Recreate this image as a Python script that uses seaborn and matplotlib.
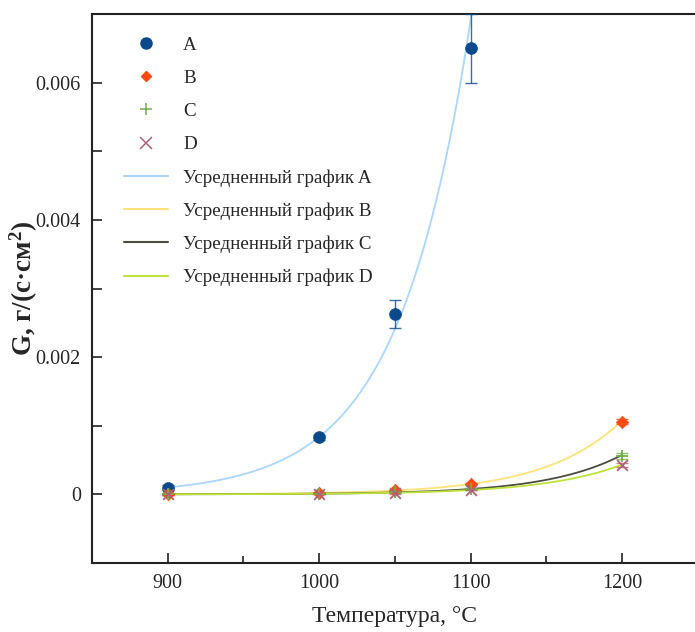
import numpy as np
import pandas as pd
import matplotlib
matplotlib.use("Agg")
import matplotlib.pyplot as plt
import seaborn as sns
from matplotlib.lines import Line2D

# ---- data ----
temps = [900, 1000, 1050, 1100, 1200]
g_a = [0.00010, 0.00083, 0.00263, 0.00650]          # A measured only up to 1100
g_a_err = [0.00003, 0.00004, 0.00020, 0.00050]
g_b = [0.00000, 0.00002, 0.00006, 0.00015, 0.00106]
g_b_err = [0.00001, 0.00001, 0.00001, 0.00002, 0.00004]
g_c = [0.00000, 0.00001, 0.00003, 0.00008, 0.00056]
g_c_err = [0.00001, 0.00001, 0.00001, 0.00001, 0.00005]
g_d = [0.00000, 0.00001, 0.00002, 0.00007, 0.00043]
g_d_err = [0.00001, 0.00001, 0.00001, 0.00001, 0.00003]

series_names = ["A", "B", "C", "D"]
fit_labels = ["Усредненный график A", "Усредненный график B",
              "Усредненный график C", "Усредненный график D"]
marker_colors = ["#0a4a8c", "#ff4a12", "#6fb04a", "#b2607a"]
line_colors = ["#aad6ff", "#ffe27a", "#4c4c40", "#bde23a"]
markers = ["o", "D", "+", "x"]
marker_sizes = [70, 40, 70, 60]


def exp_fit(x, y):
    """log-linear least squares fit y = a*exp(b*x) on positive points"""
    x = np.asarray(x, float)
    y = np.asarray(y, float)
    m = y > 0
    b, ln_a = np.polyfit(x[m], np.log(y[m]), 1)
    return lambda xx: np.exp(ln_a + b * np.asarray(xx, float))


sns.set_theme(style="ticks")
plt.rcParams["font.family"] = ["Liberation Serif", "DejaVu Serif"]
plt.rcParams["mathtext.fontset"] = "custom"
plt.rcParams["mathtext.rm"] = "Liberation Serif"
plt.rcParams["mathtext.bf"] = "Liberation Serif:bold"

fig = plt.figure(figsize=(6.95, 6.32), dpi=100)
ax = fig.add_axes([92 / 695, 1 - 563 / 632, 1.004 - 92 / 695, (563 - 14) / 632])

all_y = [g_a, g_b, g_c, g_d]
all_err = [g_a_err, g_b_err, g_c_err, g_d_err]

# fitted curves
for i, (ys, lab) in enumerate(zip(all_y, fit_labels)):
    xs = temps[:len(ys)]
    f = exp_fit(xs, ys)
    xx = np.linspace(900, 1200 if i > 0 else 1110, 300)
    dfc = pd.DataFrame({"T": xx, "G": f(xx)})
    sns.lineplot(data=dfc, x="T", y="G", ax=ax, color=line_colors[i],
                 lw=1.3, label=lab, zorder=2, legend=False)

# points with error bars
for i, (ys, es) in enumerate(zip(all_y, all_err)):
    xs = temps[:len(ys)]
    ax.errorbar(xs, ys, yerr=es, fmt="none", ecolor=marker_colors[i],
                elinewidth=1.0, capsize=4, capthick=1.0, zorder=3, alpha=0.8)
    dfp = pd.DataFrame({"T": xs, "G": ys})
    kw = dict(color=marker_colors[i], marker=markers[i], s=marker_sizes[i], zorder=4)
    if markers[i] in ("+", "x"):
        kw["linewidth"] = 1.3
    else:
        kw["edgecolor"] = marker_colors[i]
    sns.scatterplot(data=dfp, x="T", y="G", ax=ax, legend=False, **kw)

ax.set_xlim(850, 1250)
ax.set_ylim(-0.001, 0.007)
ax.set_xticks([900, 1000, 1100, 1200])
ax.set_xticks([950, 1050, 1150], minor=True)
ax.set_yticks([0, 0.002, 0.004, 0.006])
ax.set_yticks([-0.001, 0.001, 0.003, 0.005], minor=True)
ax.set_yticklabels(["0", "0.002", "0.004", "0.006"])
ax.tick_params(axis="both", which="major", direction="in", length=7, width=1.2,
               labelsize=14.5, pad=8, color="#222222")
ax.tick_params(axis="both", which="minor", direction="in", length=5, width=1.2,
               color="#222222")
ax.tick_params(axis="y", which="minor", length=7)
for s in ["left", "bottom", "top"]:
    ax.spines[s].set_linewidth(1.5)
    ax.spines[s].set_color("#222222")
ax.spines["right"].set_visible(False)

ax.set_xlabel("Температура, °C", fontsize=17, labelpad=9)
ax.set_ylabel("G, г/(с·см$\\mathbf{^2}$)", fontsize=19.5, fontweight="bold",
              labelpad=-3)

handles = []
for i in range(4):
    if markers[i] in ("+", "x"):
        handles.append(Line2D([], [], ls="none", marker=markers[i], color=marker_colors[i],
                              markersize=8, markeredgewidth=1.1))
    else:
        handles.append(Line2D([], [], ls="none", marker=markers[i], color=marker_colors[i],
                              markersize=8 if markers[i] == "o" else 5.5))
for i in range(4):
    handles.append(Line2D([], [], color=line_colors[i], lw=1.5))
ax.legend(handles, series_names + fit_labels, loc="upper left",
          bbox_to_anchor=(0.025, 0.99), frameon=False, fontsize=13.7,
          handlelength=2.3, labelspacing=0.83, handletextpad=0.8, borderaxespad=0.5)

fig.savefig("out.png", dpi=100)
